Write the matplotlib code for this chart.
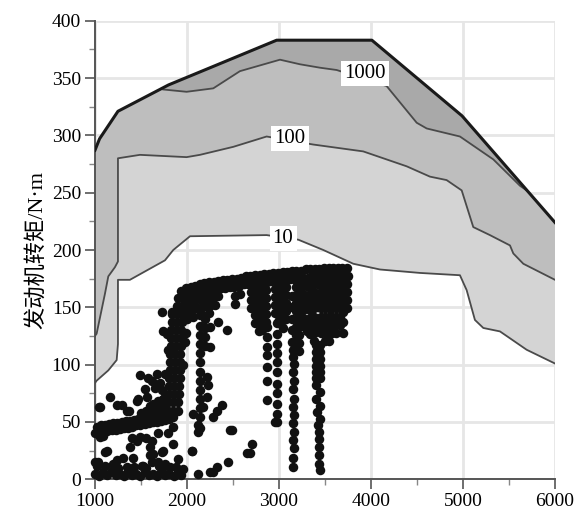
import numpy as np
import matplotlib.pyplot as plt

plt.rcParams['font.family'] = ['Liberation Serif', 'Noto Sans CJK SC']

# full-load torque curve (rpm, N·m)
outer_x = [1000, 1050, 1250, 1800, 2975, 4010, 4990, 6000]
outer_y = [287, 297, 321, 344, 383, 383, 317, 224]

# operating-frequency contour lines
c1000_x = [1742, 1996, 2286, 2576, 3011, 3228, 3446, 3627, 4170, 4497, 4606, 4967, 5330, 5620, 5692]
c1000_y = [340, 338, 341, 356, 366, 362, 359, 357, 343, 311, 306, 299, 279, 256, 252]

c100_x = [1000, 1018, 1109, 1145, 1217, 1250, 1250, 1489, 1996, 2141, 2504, 2866, 3372,
          3916, 4388, 4641, 4822, 4986, 5112, 5293, 5511, 5547, 5656, 6000]
c100_y = [125, 127, 162, 177, 185, 190, 280, 283, 281, 283, 290, 299, 292,
          286, 273, 264, 261, 252, 220, 213, 204, 197, 188, 174]

c10_x = [1000, 1018, 1145, 1236, 1250, 1250, 1380, 1761, 1851, 2033, 2866, 3210, 3482,
         3808, 4098, 4533, 4967, 5040, 5130, 5221, 5402, 5511, 5692, 6000]
c10_y = [84, 86, 95, 104, 118, 174, 174, 191, 200, 212, 213, 209, 200,
         188, 183, 180, 178, 165, 139, 132, 129, 123, 113, 101]

# measured operating points: low-load band and scatter below 2000 rpm
pts_low = [
    (1000, 40), (1045, 41), (1090, 41), (1135, 42), (1180, 43), (1225, 43), (1270, 44),
    (1315, 45), (1360, 45), (1405, 46), (1450, 47), (1495, 47), (1540, 48), (1585, 49),
    (1630, 50), (1675, 50), (1720, 51), (1765, 52), (1810, 53), (1850, 54),
    (1020, 46), (1065, 47), (1110, 47), (1155, 48), (1200, 49), (1245, 49), (1290, 50),
    (1335, 51), (1380, 51), (1425, 52), (1470, 53), (1515, 53), (1560, 54), (1605, 55),
    (1650, 56), (1695, 56), (1740, 57), (1785, 58), (1830, 59),
    (1500, 58), (1560, 60), (1620, 61), (1700, 62), (1760, 63), (1600, 64), (1680, 68),
    (1163, 72), (1290, 65), (1054, 63), (1471, 70), (1543, 79), (1634, 66), (1725, 78),
    (1489, 91), (1616, 86), (1670, 92), (1236, 65), (1345, 60), (1453, 68), (1562, 72),
    (1707, 84), (1580, 88), (1040, 63), (1366, 60), (1740, 70), (1650, 80), (1760, 92),
    (1054, 37), (1109, 24), (1000, 15), (1308, 19), (1345, 11), (1453, 33), (1616, 33),
    (1598, 21), (1725, 24), (1688, 15), (1815, 11), (1851, 46), (2051, 25), (2123, 5),
    (1090, 38), (1127, 25), (1036, 15), (1236, 17), (1380, 28), (1417, 19), (1489, 37),
    (1598, 28), (1634, 22), (1742, 25), (1851, 31), (1905, 18), (1960, 9), (1616, 15),
    (1525, 12), (1742, 11), (1400, 36), (1560, 36), (1680, 40), (1790, 40),
    (1000, 5), (1045, 3), (1090, 6), (1135, 4), (1180, 7), (1225, 4), (1270, 5), (1315, 3),
    (1360, 6), (1405, 4), (1450, 5), (1495, 3), (1540, 6), (1585, 4), (1630, 5), (1675, 3),
    (1720, 6), (1765, 4), (1810, 5), (1855, 3), (1900, 6), (1940, 4),
    (1020, 12), (1110, 12), (1200, 13), (1250, 10), (1420, 11), (1510, 12), (1560, 10),
    (1700, 12), (1760, 13), (1880, 11),
]

# steep climb to the high-load band around 1850-1950 rpm
pts_ramp = [
    (1795, 60), (1798, 67), (1802, 74), (1805, 81), (1809, 88), (1812, 95), (1816, 102),
    (1819, 109), (1823, 116), (1826, 123), (1830, 130), (1833, 137), (1837, 144),
    (1850, 60), (1853, 67), (1857, 74), (1860, 81), (1864, 88), (1867, 95), (1871, 102),
    (1874, 109), (1878, 116), (1881, 123), (1885, 130), (1888, 137), (1892, 144),
    (1895, 151), (1899, 158),
    (1905, 60), (1908, 67), (1912, 74), (1915, 81), (1919, 88), (1922, 95), (1926, 102),
    (1929, 109), (1933, 116), (1936, 123), (1940, 130), (1943, 137), (1947, 144),
    (1950, 151), (1954, 158),
    (1700, 62), (1740, 66), (1760, 72), (1779, 127), (1797, 113), (1833, 146), (1742, 129),
    (1815, 113), (1725, 146), (1960, 100), (1975, 120), (1990, 140), (1985, 128),
]

# high-load band along the top of the cloud
pts_top = [
    (1940, 164), (1990, 167), (2040, 168), (2090, 169), (2140, 170), (2190, 171), (2240, 172),
    (2290, 172), (2340, 173), (2390, 174), (2440, 174), (2490, 175), (2540, 175), (2590, 176),
    (2640, 177), (2690, 177), (2740, 178), (2790, 178), (2840, 179), (2890, 179), (2940, 180),
    (2990, 180), (3040, 181), (3090, 181), (3140, 182), (3190, 182), (3240, 182), (3290, 183),
    (3340, 183), (3390, 183), (3440, 183), (3490, 184), (3540, 184), (3590, 184), (3640, 184),
    (3690, 184), (3740, 184),
    (1965, 158), (2015, 161), (2065, 162), (2115, 163), (2165, 164), (2215, 165), (2265, 165),
    (2315, 166), (2365, 167), (2415, 167), (2465, 168), (2515, 168), (2565, 169), (2615, 170),
    (2665, 170), (2715, 171), (2765, 171), (2815, 172), (2865, 172), (2915, 173), (2965, 173),
    (3015, 174), (3065, 174), (3115, 175), (3165, 175), (3215, 175), (3265, 176), (3315, 176),
    (3365, 176), (3415, 177), (3465, 177), (3515, 177), (3565, 177), (3615, 177), (3665, 177),
    (3715, 177), (3745, 177),
    (1940, 150), (1990, 153), (2040, 155), (2090, 156), (2140, 157), (2190, 158), (2240, 158),
    (2290, 159), (2340, 160), (1960, 143), (2010, 146), (2060, 148), (2110, 149), (2160, 150),
    (2210, 151), (2260, 152), (2310, 152), (2000, 140), (2070, 142), (2150, 144), (2240, 145),
    (2520, 160), (2520, 153), (2580, 162),
]

# dense block under the band, 2700-3750 rpm (rpm, torque values per column)
block_x = [2700, 2740, 2780, 2820, 2860, 2960, 3000, 3040, 3080, 3180, 3220, 3260,
           3300, 3340, 3380, 3420, 3460, 3500, 3540, 3580, 3620, 3660, 3700, 3740]
block_y = [
    [170, 163, 156, 149],
    [171, 164, 157, 150, 143, 136],
    [171, 164, 157, 150, 143, 136, 129],
    [172, 165, 158, 151, 144, 137, 130],
    [172, 165, 158, 151, 144, 137],
    [173, 166, 159, 152, 145],
    [174, 167, 160, 153, 146, 139],
    [174, 167, 160, 153, 146, 139, 132],
    [175, 168, 161, 154, 147, 140],
    [175, 168, 161, 154, 147, 140, 133, 126, 119],
    [175, 168, 161, 154, 147, 140, 133, 126, 119, 112],
    [176, 169, 162, 155, 148, 141, 134],
    [169, 159, 149, 139, 129],
    [176, 169, 162, 155, 148, 141, 134, 127],
    [177, 170, 163, 156, 149, 142, 135, 128, 121],
    [170, 160, 150, 140, 130],
    [177, 170, 163, 156, 149, 142, 135, 128],
    [177, 170, 163, 156, 149, 142, 135, 128, 121],
    [177, 170, 163, 156, 149, 142, 135, 128, 121],
    [177, 170, 163, 156, 149, 142, 135, 128],
    [177, 170, 163, 156, 149, 142, 135, 128],
    [177, 170, 163, 156, 149, 142, 135],
    [177, 170, 163, 156, 149, 146, 137, 128],
    [177, 170, 163, 156, 149],
]

# vertical strings of points at fixed engine speeds
pts_cols = [
    (2141, 143), (2141, 134), (2141, 126), (2141, 118), (2141, 110), (2141, 102), (2141, 94),
    (2141, 86), (2141, 78), (2141, 70), (2141, 62), (2141, 54), (2141, 45),
    (2196, 140), (2196, 132), (2196, 124), (2196, 116),
    (2250, 133), (2340, 137), (2431, 130), (2250, 115), (2214, 89), (2232, 82), (2214, 72),
    (2178, 63), (2323, 60), (2286, 54), (2377, 65), (2123, 47), (2123, 41), (2069, 57),
    (2486, 43), (2703, 31), (2685, 23), (2446, 15), (2323, 11), (2250, 6), (2286, 6),
    (2467, 43), (2649, 23), (2051, 25),
    (2866, 133), (2866, 124), (2866, 115), (2866, 108), (2866, 98), (2866, 86), (2866, 69),
    (2956, 50),
    (2975, 136), (2975, 127), (2975, 118), (2975, 110), (2975, 102), (2975, 94), (2975, 83),
    (2975, 75), (2975, 66), (2975, 57), (2975, 50),
    (3156, 113), (3156, 107), (3160, 101), (3156, 94), (3160, 86), (3156, 79), (3160, 70),
    (3156, 63), (3160, 56), (3156, 49), (3160, 41), (3156, 34), (3160, 27), (3156, 19),
    (3156, 11), (3140, 160), (3140, 150), (3140, 140), (3140, 130), (3140, 120),
    (3400, 117), (3450, 111), (3400, 105), (3450, 99), (3400, 94), (3450, 88), (3400, 82),
    (3450, 76), (3400, 70), (3450, 64), (3410, 59), (3450, 53), (3420, 47), (3440, 41),
    (3438, 35), (3438, 28), (3438, 21), (3438, 13), (3446, 8),
    (3450, 117), (3400, 111), (3450, 105), (3400, 99), (3450, 94), (3400, 88),
]

block = [(bx, by) for bx, col in zip(block_x, block_y) for by in col]
dots = np.array(pts_low + pts_ramp + pts_top + block + pts_cols, dtype=float)

fig = plt.figure(figsize=(5.79, 5.15), dpi=100)
ax = fig.add_axes([0.164, 0.0693, 0.7945, 0.8905])

ox, oy = np.array(outer_x), np.array(outer_y)


def region(cx, cy):
    # area between the full-load curve and a contour running under it
    cx, cy = np.array(cx), np.array(cy)
    keep = (ox >= cx[0]) & (ox <= cx[-1])
    px = np.concatenate([cx, ox[keep][::-1]])
    py = np.concatenate([cy, oy[keep][::-1]])
    return px, py


for (cx, cy), shade, z in [((c10_x, c10_y), '#d4d4d4', 1),
                           ((c100_x, c100_y), '#bebebe', 2),
                           ((c1000_x, c1000_y), '#a9a9a9', 3)]:
    gx, gy = region(cx, cy)
    ax.fill(gx, gy, color=shade, lw=0, zorder=z)

for cx, cy in [(c10_x, c10_y), (c100_x, c100_y), (c1000_x, c1000_y)]:
    ax.plot(cx, cy, color='#4a4a4a', lw=1.3, zorder=4)
ax.plot(outer_x, outer_y, color='#1a1a1a', lw=2.2, zorder=5)

for txt, lx, ly in [('1000', 3935, 354), ('100', 3120, 297), ('10', 3044, 210)]:
    ax.text(lx, ly, txt, fontsize=15, ha='center', va='center', zorder=6,
            bbox=dict(boxstyle='square,pad=0.15', fc='white', ec='none'))

ax.scatter(dots[:, 0], dots[:, 1], s=47, color='#111111', lw=0, zorder=7, clip_on=False)

ax.set_xlim(1000, 6000)
ax.set_ylim(0, 400)
ax.set_xticks([1000, 2000, 3000, 4000, 5000, 6000])
ax.set_yticks(np.arange(0, 401, 50))
ax.set_xticks([1500, 2500, 3500, 4500, 5500], minor=True)
ax.set_yticks([25, 75, 125, 175, 225, 275, 325, 375], minor=True)
ax.grid(True, which='major', color='#e6e6e6', lw=2)
ax.set_axisbelow(True)
ax.tick_params(which='major', length=7, width=1.2, color='#555555', labelsize=14, pad=3)
ax.tick_params(which='minor', length=4, width=1.0, color='#888888')
for side in ['top', 'right']:
    ax.spines[side].set_visible(False)
for side in ['left', 'bottom']:
    ax.spines[side].set_color('#555555')
    ax.spines[side].set_linewidth(1.4)

ax.set_ylabel('发动机转矩/N·m', fontsize=16, labelpad=3)

fig.savefig('out.png', dpi=100)
